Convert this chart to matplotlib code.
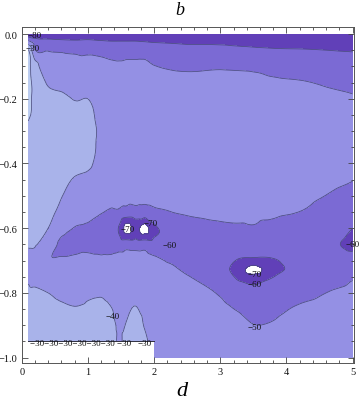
import numpy as np
import matplotlib
matplotlib.use("Agg")
import matplotlib.pyplot as plt
import matplotlib.tri as mtri

# grid of d (x) values and b (y) values
d_values = [0.1, 0.2, 0.4, 0.6, 0.8, 1.0, 1.2, 1.35, 1.48, 1.58, 1.72, 1.86,
            2.0, 2.25, 2.5, 3.0, 3.25, 3.5, 3.75, 4.25, 4.75, 5.0]
b_values = [0, -0.02, -0.05, -0.1, -0.15, -0.2, -0.3, -0.4, -0.45, -0.5, -0.55,
            -0.6, -0.65, -0.7, -0.725, -0.75, -0.8, -0.85, -0.9, -0.95, -1.0]
nan = float("nan")
# field values, one list per d column (top to bottom along b)
z_columns = [
    [-68, -50, -29, -27, -27, -28, -31, -33, -34, -35, -36, -38, -39.5, -41.5, -41.8, -41, -38.5, -37, -36, -35, nan],
    [-68, -56, -49, -36, -33, -32, -32, -33, -34, -35, -36, -37.5, -39.5, -42, -42.8, -43.5, -38, -36, -35, -35, nan],
    [-68, -58, -50.5, -46, -41, -37, -34, -34, -35, -36, -38, -40, -44, -49, -47.5, -46, -40, -37, -36, -35, nan],
    [-68, -59, -51, -47, -43, -38, -35, -36, -38, -39.7, -42, -47, -52, -49, -47.5, -46, -42, -38.5, -36, -35, nan],
    [-68, -59.5, -51.5, -48, -44, -40.3, -36, -38, -40.5, -43, -46, -50.3, -53, -48, -46.5, -45, -42.5, -39.5, -37, -35, nan],
    [-68, -59, -52, -47, -43, -40, -37, -39, -41.5, -44, -47, -51.5, -54, -46, -45, -44, -41, -39, -37, -35, nan],
    [-68, -60, -53, -47, -44, -42.5, -41.5, -42, -43.5, -46, -49.5, -55, -56, -47, -45.5, -44, -40.7, -38.5, -37, -35, nan],
    [-68, -60.5, -54, -48, -45, -44, -43.5, -44, -45.5, -47.5, -51, -56, -55, -47, -45.5, -44, -41.5, -39.8, -38.5, -38, nan],
    [-68, -60.5, -54, -48.5, -46, -45, -44.5, -45, -46, -48, -51.5, -61.5, -55, -45, -43.8, -42.5, -41.5, -41, -40.8, -40.5, nan],
    [-68, -60.5, -54, -48, -46.5, -45.5, -45, -45.5, -46.5, -48.5, -53, -73.5, -54, -45, -43.5, -42, -41, -40.5, -39.8, -38.5, nan],
    [-68, -60.5, -54, -48, -46.5, -46, -45.5, -46, -47, -48, -53, -67, -54.5, -45, -43.5, -42, -40.8, -39.8, -38.5, -38, nan],
    [-68, -61, -54, -48, -46.5, -46, -46, -46.5, -47.5, -48.5, -53, -74, -54, -46, -44.5, -43, -41.5, -41, -40.3, -39, nan],
    [-68, -61.5, -55.5, -49.7, -47, -46.5, -46.5, -47, -48, -48.5, -51.5, -62, -56, -48, -46.5, -45, -43.5, -42.5, -42, -42, -42],
    [-68, -62, -56, -51, -47, -46, -46, -46.5, -47.5, -48.5, -50.1, -58, -58, -51, -48.5, -46, -44, -43, -42.5, -42, -42],
    [-68, -62.5, -57, -51.5, -47.5, -46, -45.5, -46, -47, -48, -49.3, -53, -55, -54, -52, -49.5, -46, -44, -43, -42.5, -42],
    [-68, -62.5, -57.5, -51, -47, -45.5, -45, -45.5, -46.5, -47.5, -48.8, -51, -54, -56, -57, -55, -51, -47, -44.5, -43.5, -43],
    [-68, -63, -58, -51.2, -47.5, -45.5, -45, -45.5, -46.5, -47.5, -48.7, -50.8, -55, -60.3, -63, -61, -56, -50.5, -46, -44, -43.5],
    [-68, -63.5, -58.5, -51.5, -48, -46, -45.5, -46, -47, -48, -49, -50.5, -55, -62, -74.5, -67, -55, -52, -49.8, -46, -44],
    [-68, -64, -59, -53, -48.5, -46.5, -46, -46.5, -47.5, -48.5, -49, -51.5, -55.5, -61, -64.5, -61, -55, -52, -49.5, -46, -44],
    [-68, -64, -59.5, -54.5, -49.5, -47, -46, -46.5, -47.5, -48.5, -50.3, -54, -56, -57, -56.5, -56, -52.5, -48.5, -46, -44.5, -43.5],
    [-68, -64.5, -60.2, -56, -51.5, -48.5, -46.5, -47.5, -49, -51, -54, -57, -59.5, -57, -55.5, -53.5, -49, -46.5, -45, -44, -43.5],
    [-68, -64.5, -60.5, -56.5, -52.5, -49.2, -47, -48.5, -49.8, -53, -56, -60, -61.5, -57, -54.5, -51, -47.5, -45.5, -44.5, -44, -43.5],
]

levels = [-200, -70, -60, -50, -40, -30, 0]
fill_colors = ["#ffffff", "#6140b8", "#7b6ad4", "#9490e4", "#a9b3ea", "#bccdf0"]

# contour labels
label_text = ["−80", "−30",
              "−70", "−70", "−60",
              "−70", "−60", "−50", "−60", "−40",
              "−30−30−30−30−30−30 −30", "−30"]
label_d = [0.2, 0.17,
           1.6, 1.95, 2.23,
           3.52, 3.52, 3.52, 5.0, 1.38,
           0.12, 1.86]
label_b = [-0.004, -0.042,
           -0.603, -0.585, -0.652,
           -0.743, -0.774, -0.905, -0.65, -0.873,
           -0.955, -0.955]
label_align = ["center", "center",
               "center", "center", "center",
               "center", "center", "center", "center", "center",
               "left", "center"]

x_ticks = [0, 1, 2, 3, 4, 5]
y_ticks = [0.0, -0.2, -0.4, -0.6, -0.8, -1.0]

serif = ["Liberation Serif", "DejaVu Serif"]

# build a triangulation of the valid samples and let matplotlib smooth it
D, B = np.meshgrid(d_values, b_values)
Zg = np.array(z_columns, dtype=float).T
ok = ~np.isnan(Zg)
px, py, pz = D[ok], B[ok], Zg[ok]
tri = mtri.Triangulation(px, py)
cx = px[tri.triangles].mean(axis=1)
cy = py[tri.triangles].mean(axis=1)
edge_b = b_values[-2]
first_full = next(i for i, col in enumerate(z_columns) if not np.isnan(col[-1]))
tri.set_mask((cy < edge_b) & (cx < d_values[first_full]))
refiner = mtri.UniformTriRefiner(tri)
interp = mtri.CubicTriInterpolator(tri, pz, kind="geom")
tri_f, z_f = refiner.refine_field(pz, triinterpolator=interp, subdiv=3)

fig = plt.figure(figsize=(3.6, 4.1), dpi=100)
ax = fig.add_axes([0.0603, 0.112, 0.923, 0.819])
ax.tricontourf(tri_f, z_f, levels=levels, colors=fill_colors)
ax.tricontour(tri_f, z_f, levels=levels[1:-1], colors="#4a4a7e",
              linewidths=0.55, linestyles="solid")

# lower edge of the sampled region (left part)
ax.plot([d_values[0], d_values[first_full]], [edge_b, edge_b],
        color="#303040", lw=0.7)

for t, x, y, ha in zip(label_text, label_d, label_b, label_align):
    ax.text(x, y, t, fontsize=6.5, family=serif, ha=ha, va="center",
            color="#111111", clip_on=False)

ax.set_xlim(0, 5.02)
ax.set_ylim(-1.017, 0.021)
ax.set_xticks(x_ticks)
ax.set_xticklabels([str(v) for v in x_ticks])
ax.set_yticks(y_ticks)
ax.set_yticklabels([f"{v:.1f}".replace("-", "−") for v in y_ticks])
ax.set_xticks(np.arange(0, 5.01, 0.2), minor=True)
ax.set_yticks(np.arange(-1.0, 0.01, 0.05), minor=True)
ax.tick_params(which="both", direction="in", top=True, right=True,
               colors="#444444", labelcolor="#111111", width=0.6)
ax.tick_params(which="major", length=4, labelsize=7.5, pad=3)
ax.tick_params(which="minor", length=2)
for lab in ax.get_xticklabels() + ax.get_yticklabels():
    lab.set_family(serif)
for s in ax.spines.values():
    s.set_color("#555555")
    s.set_linewidth(0.7)

fig.text(0.5, 0.975, "b", fontsize=13, style="italic", family=serif,
         ha="center", va="center")
fig.text(0.505, 0.045, "d", fontsize=16, style="italic", family=serif,
         ha="center", va="center")

fig.savefig("out.png", dpi=100)
